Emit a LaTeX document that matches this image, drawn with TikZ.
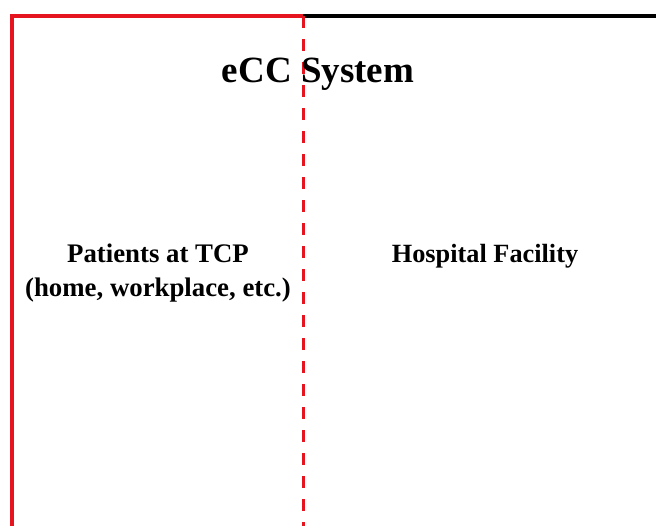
\documentclass[tikz,border=0pt]{standalone}
\usepackage{fontspec}
\setmainfont{Liberation Serif}
\begin{document}
\begin{tikzpicture}[x=1pt,y=-1pt,
  redline/.style={draw={rgb,255:red,230;green,20;blue,30}, line width=3.2pt},
  blackline/.style={draw=black, line width=3.2pt},
  divider/.style={redline, line width=3pt, dash pattern=on 12pt off 11pt},
  label/.style={font=\bfseries, inner sep=0pt, align=center}]
  \useasboundingbox (0,0) rectangle (656,525);
  % frame corners
  \coordinate (tl) at (12,16);
  \coordinate (bl) at (12,527);
  \coordinate (tm) at (303,16);
  \coordinate (bm) at (303,527);
  \coordinate (tr) at (658,16);
  % outer frame
  \draw[redline, line join=miter] (bl) -- (tl) -- (tm);
  \draw[blackline] (tm) -- (tr);
  % boundary between patient side and hospital side
  \draw[divider] (tm) -- (bm);
  % labels
  \node[label, font=\bfseries\fontsize{37}{40}\selectfont] (sys) at (318,74) {eCC System};
  \node[label, font=\bfseries\fontsize{26.8}{34.5}\selectfont] (pat) at (158,273) {Patients at TCP\\(home, workplace, etc.)};
  \node[label, font=\bfseries\fontsize{26.3}{30}\selectfont] (hosp) at (485,256) {Hospital Facility};
\end{tikzpicture}
\end{document}
